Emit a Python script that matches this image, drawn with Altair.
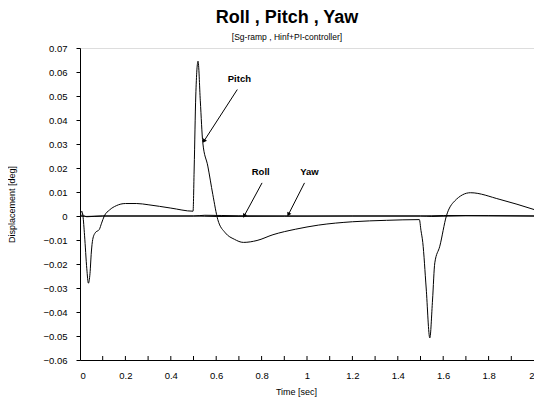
import altair as alt
import pandas as pd
import math

# ---- data ----
pitch_t = [0, 0.008, 0.013, 0.02, 0.03, 0.037, 0.044, 0.05, 0.056, 0.067, 0.085, 0.095,
           0.107, 0.13, 0.16, 0.2, 0.25, 0.3, 0.4, 0.498, 0.503, 0.51, 0.52, 0.53, 0.541,
           0.563, 0.585, 0.607, 0.64, 0.68, 0.72, 0.78, 0.85, 0.95, 1.05, 1.2, 1.35, 1.495,
           1.502, 1.51, 1.525, 1.541, 1.553, 1.563, 1.585, 1.614, 1.65, 1.72, 1.85, 2.0]
pitch_v = [0, 0.002, 0.0, -0.008, -0.022, -0.028, -0.024, -0.015, -0.0098, -0.007, -0.0056, -0.003,
           0.0, 0.0025, 0.0043, 0.0052, 0.0052, 0.0047, 0.0033, 0.002, 0.02, 0.05, 0.0645, 0.048, 0.0305,
           0.0208, 0.009, -0.0015, -0.007, -0.0097, -0.011, -0.0102, -0.0078, -0.0055, -0.0038, -0.0024, -0.0018, -0.0015,
           -0.006, -0.011, -0.03, -0.0508, -0.035, -0.0195, -0.0126, 0.0, 0.0062, 0.0097, 0.0069, 0.0027]

roll_t = [0, 0.01, 0.03, 0.1, 0.5, 0.55, 0.7, 1.0, 1.5, 1.55, 1.7, 2.0]
roll_v = [0, 0.0004, -0.0003, 0.0, 0.0, 0.0003, 0.0001, 0.0, 0.0, -0.0002, 0.0001, 0.0]

yaw_t = [0, 0.02, 0.1, 0.5, 0.6, 0.9, 1.2, 1.5, 1.6, 2.0]
yaw_v = [0, -0.0002, 0.0, 0.0, -0.0002, -0.0001, 0.0, 0.0, 0.0002, 0.0]

labels = ["Pitch", "Roll", "Yaw"]
label_t = [0.702, 0.796, 1.011]
label_v = [0.0569, 0.0185, 0.0185]
arrow_t0 = [0.693, 0.802, 0.989]
arrow_v0 = [0.0527, 0.0138, 0.0138]
arrow_t1 = [0.546, 0.723, 0.918]
arrow_v1 = [0.0312, 0.0, 0.0006]

x_ticks = [0, 0.2, 0.4, 0.6, 0.8, 1, 1.2, 1.4, 1.6, 1.8, 2]
x_minor = [0.1, 0.2, 0.3, 0.4, 0.5, 0.6, 0.7, 0.8, 0.9, 1.0, 1.1, 1.2, 1.3, 1.4, 1.5, 1.6, 1.7, 1.8, 1.9]
y_ticks = [-0.06, -0.05, -0.04, -0.03, -0.02, -0.01, 0, 0.01, 0.02, 0.03, 0.04, 0.05, 0.06, 0.07]

W, H = 454, 312
X0, X1 = 0, 2
Y0, Y1 = -0.06, 0.07
FONT = "Liberation Sans"

lines = pd.concat([
    pd.DataFrame({"t": roll_t, "v": roll_v, "s": "Roll"}),
    pd.DataFrame({"t": yaw_t, "v": yaw_v, "s": "Yaw"}),
    pd.DataFrame({"t": pitch_t, "v": pitch_v, "s": "Pitch"}),
])

# arrowhead angles (screen space)
sx = W / (X1 - X0)
sy = H / (Y1 - Y0)
angles = []
for a, b, c, d in zip(arrow_t0, arrow_v0, arrow_t1, arrow_v1):
    dx = (c - a) * sx
    dy = -(d - b) * sy
    angles.append(math.degrees(math.atan2(dx, -dy)) % 360)

ann = pd.DataFrame({"label": labels, "lt": label_t, "lv": label_v,
                    "t0": arrow_t0, "v0": arrow_v0, "t1": arrow_t1, "v1": arrow_v1,
                    "ang": angles})

xs = alt.Scale(domain=[X0, X1], nice=False, zero=False)
ys = alt.Scale(domain=[Y0, Y1], nice=False, zero=False)

xax = alt.Axis(values=x_ticks, format="~g", ticks=False, grid=False, labelPadding=10,
               labelOverlap=False, labelFlush=True,
               title="Time [sec]", titlePadding=8, titleX=216,
               labelFontSize=9.5, titleFontSize=9, labelFont=FONT, titleFont=FONT,
               titleFontWeight="normal", domainColor="black", labelColor="black", titleColor="black")
yax = alt.Axis(values=y_ticks, format="~g", tickSize=4, grid=False, labelPadding=9,
               labelOverlap=False, labelFlush=False,
               title="Displacement [deg]", titlePadding=26,
               labelFontSize=9.5, titleFontSize=9, labelFont=FONT, titleFont=FONT,
               titleFontWeight="normal", domainColor="black", tickColor="black",
               labelColor="black", titleColor="black")


def X(f):
    return alt.X(f, scale=xs, axis=xax)


def Y(f):
    return alt.Y(f, scale=ys, axis=yax)


base_lines = alt.Chart(lines).mark_line(color="black", strokeWidth=1, interpolate="monotone", clip=True).encode(
    x=X("t:Q"), y=Y("v:Q"), detail="s:N", order="t:Q",
)

tick_df = pd.DataFrame({"t": x_minor, "y0": [Y0] * len(x_minor), "y1": [Y0 + 4 / sy] * len(x_minor)})
inner_ticks = alt.Chart(tick_df).mark_rule(color="black", strokeWidth=1).encode(
    x=X("t:Q"), y=Y("y0:Q"), y2="y1:Q",
)

arrows = alt.Chart(ann).mark_rule(color="black", strokeWidth=1).encode(
    x=X("t0:Q"), y=Y("v0:Q"), x2="t1:Q", y2="v1:Q",
)
heads = alt.Chart(ann).mark_point(shape="triangle-up", filled=True, color="black", size=22, opacity=1).encode(
    x=X("t1:Q"), y=Y("v1:Q"), angle=alt.Angle("ang:Q", scale=None),
)
texts = alt.Chart(ann).mark_text(font=FONT, fontSize=9.5, fontWeight="bold", color="black").encode(
    x=X("lt:Q"), y=Y("lv:Q"), text="label:N",
)

chart = alt.layer(base_lines, inner_ticks, arrows, heads, texts).properties(
    width=W, height=H,
    title=alt.TitleParams(
        text="Roll , Pitch , Yaw",
        subtitle="[Sg-ramp , Hinf+PI-controller]",
        font=FONT, fontSize=18, fontWeight="bold", color="black",
        subtitleFont=FONT, subtitleFontSize=8.5, subtitleColor="black",
        subtitlePadding=6, anchor="middle", dx=-20, offset=2,
    ),
    autosize=alt.AutoSizeParams(type="none"),
    padding={"left": 72, "top": 40, "right": 0, "bottom": 40},
).configure_view(stroke="black", strokeWidth=1).configure(background="white")

chart.save("out.html", embed_options={"renderer": "svg", "actions": False})
